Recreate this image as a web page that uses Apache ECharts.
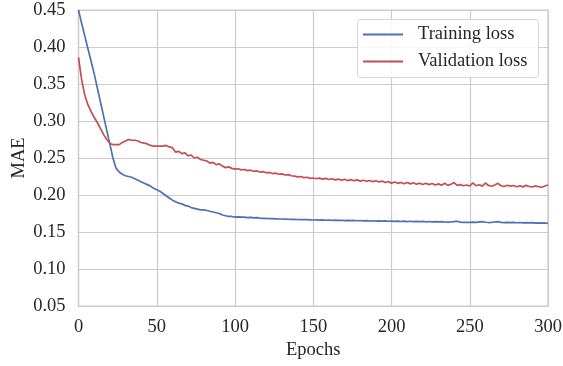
<!DOCTYPE html>
<html>
<head>
<meta charset="utf-8">
<script src="https://cdn.jsdelivr.net/npm/echarts@6/dist/echarts.min.js"></script>
<style>
html,body{margin:0;padding:0;background:#fff;}
#chart{width:563px;height:366px;}
</style>
</head>
<body>
<div id="chart"></div>
<script>
// Epochs sampled every 2 epochs, 0..300
const epochs = Array.from({length: 151}, (_, i) => i * 2);

const trainingLoss = [
0.450,0.432,0.415,0.398,0.381,0.364,0.345,0.326,0.307,0.288,0.269,
0.250,0.236,0.231,0.228,0.226,0.225,0.224,0.222,0.220,0.218,
0.216,0.214,0.212,0.209,0.207,0.205,0.202,0.199,0.196,0.193,
0.191,0.189,0.188,0.186,0.185,0.183,0.182,0.181,0.180,0.180,
0.179,0.178,0.177,0.176,0.175,0.173,0.172,0.171,0.171,0.170,
0.1705,0.1700,0.1702,0.1695,0.1698,0.1690,0.1693,0.1688,0.1685,0.1683,
0.1682,0.1680,0.1678,0.1676,0.1676,0.1674,0.1672,0.1671,0.1670,0.1669,
0.1668,0.1667,0.1666,0.1664,0.1662,
0.1663,0.1660,0.1664,0.1659,0.1662,0.1657,0.1661,0.1656,0.1659,0.1655,
0.1658,0.1653,0.1657,0.1652,0.1655,0.1650,0.1654,0.1649,0.1652,0.1648,
0.1651,0.1646,0.1650,0.1645,0.1648,
0.1643,0.1647,0.1642,0.1646,0.1641,0.1645,0.1640,0.1644,0.1639,0.1643,
0.1638,0.1642,0.1637,0.1641,0.1636,0.1640,0.1635,0.1633,0.1636,0.1640,
0.1646,0.1634,0.1630,0.1632,0.1629,
0.1634,0.1631,0.1637,0.1641,0.1632,0.1628,0.1630,0.1635,0.1640,0.1631,
0.1627,0.1629,0.1626,0.1630,0.1625,0.1628,0.1624,0.1627,0.1623,0.1626,
0.1621,0.1624,0.1620,0.1622,0.1617
];

const validationLoss = [
0.386,0.356,0.335,0.322,0.313,0.305,0.298,0.290,0.282,0.275,0.270,
0.268,0.268,0.268,0.271,0.273,0.275,0.274,0.274,0.273,0.271,
0.270,0.269,0.267,0.266,0.266,0.266,0.266,0.267,0.265,0.264,
0.258,0.259,0.256,0.257,0.253,0.254,0.250,0.251,0.248,0.247,
0.246,0.243,0.244,0.241,0.242,0.239,0.237,0.238,0.236,0.235,
0.2355,0.234,0.2345,0.233,0.2335,0.232,0.2325,0.231,0.2315,0.230,
0.2305,0.229,0.2295,0.228,0.2285,0.227,0.2275,0.226,0.2255,0.2245,
0.225,0.2235,0.224,0.2225,0.2230,
0.2220,0.2228,0.2215,0.2225,0.2210,0.2220,0.2205,0.2215,0.2200,0.2212,
0.2195,0.2208,0.2192,0.2205,0.2188,0.2200,0.2185,0.2196,0.2180,0.2192,
0.2175,0.2188,0.2168,0.2182,0.2160,
0.2175,0.2158,0.2170,0.2152,0.2168,0.2150,0.2165,0.2145,0.2160,0.2142,
0.2158,0.2140,0.2155,0.2135,0.2150,0.2132,0.2158,0.2130,0.2145,0.2168,
0.2130,0.2140,0.2125,0.2135,0.2122,
0.2165,0.2125,0.2138,0.2120,0.2162,0.2128,0.2118,0.2135,0.2158,0.2125,
0.2115,0.2132,0.2120,0.2128,0.2112,0.2125,0.2110,0.2130,0.2115,0.2108,
0.2125,0.2112,0.2105,0.2122,0.2135
];

const yTicks = [0.05, 0.10, 0.15, 0.20, 0.25, 0.30, 0.35, 0.40, 0.45];
const xTicks = [0, 50, 100, 150, 200, 250, 300];
const seriesNames = ['Training loss', 'Validation loss'];

const FONT = '"Liberation Serif", "DejaVu Serif", serif';
const TXT = '#262626';
const GRID = '#cccccc';
const FS = 18.5;

const chart = echarts.init(document.getElementById('chart'), null, {renderer: 'canvas'});
chart.setOption({
  animation: false,
  backgroundColor: '#ffffff',
  textStyle: {fontFamily: FONT},
  grid: {left: 78.5, right: 15, top: 10, bottom: 60, show: true, borderColor: GRID, borderWidth: 1.2,
         backgroundColor: '#fff', containLabel: false, outerBoundsMode: 'none'},
  graphic: [{
    type: 'rect', z: 3, silent: true,
    shape: {x: 357.5, y: 19.5, width: 181, height: 58, r: 3},
    style: {fill: 'rgba(255,255,255,0.85)', stroke: '#d6d6d6', lineWidth: 1}
  }],
  legend: {
    orient: 'vertical',
    left: 357, top: 19, z: 5,
    padding: [6, 0, 8, 6],
    itemGap: 8,
    itemWidth: 40, itemHeight: 2,
    icon: 'rect',
    backgroundColor: 'transparent', borderWidth: 0,
    textStyle: {fontFamily: FONT, fontSize: FS, color: TXT, padding: [0, 0, 0, 10]},
    data: seriesNames
  },
  xAxis: {
    type: 'value',
    min: xTicks[0], max: xTicks[xTicks.length - 1], interval: 50,
    name: 'Epochs', nameLocation: 'middle', nameGap: 35, nameMoveOverlap: false,
    nameTextStyle: {fontFamily: FONT, fontSize: FS, color: TXT},
    axisLine: {show: true, lineStyle: {color: GRID, width: 1.2}},
    axisTick: {show: false},
    axisLabel: {fontFamily: FONT, fontSize: FS, color: TXT, margin: 12},
    splitLine: {show: true, lineStyle: {color: GRID, width: 1.2}}
  },
  yAxis: {
    type: 'value',
    min: yTicks[0], max: yTicks[yTicks.length - 1], interval: 0.05,
    name: 'MAE', nameLocation: 'middle', nameGap: 49.5, nameRotate: 90, nameMoveOverlap: false,
    nameTextStyle: {fontFamily: FONT, fontSize: FS, color: TXT},
    axisLine: {show: true, lineStyle: {color: GRID, width: 1.2}},
    axisTick: {show: false},
    axisLabel: {fontFamily: FONT, fontSize: FS, color: TXT, margin: 13,
      formatter: v => v.toFixed(2)},
    splitLine: {show: true, lineStyle: {color: GRID, width: 1.2}}
  },
  series: [
    {
      name: seriesNames[0], type: 'line', showSymbol: false, symbol: 'none',
      data: epochs.map((e, i) => [e, trainingLoss[i]]),
      lineStyle: {color: '#4C72B0', width: 1.7}, itemStyle: {color: '#4C72B0'},
      clip: true
    },
    {
      name: seriesNames[1], type: 'line', showSymbol: false, symbol: 'none',
      data: epochs.map((e, i) => [e, validationLoss[i]]),
      lineStyle: {color: '#C44E52', width: 1.7}, itemStyle: {color: '#C44E52'},
      clip: true
    }
  ]
});
</script>
</body>
</html>
